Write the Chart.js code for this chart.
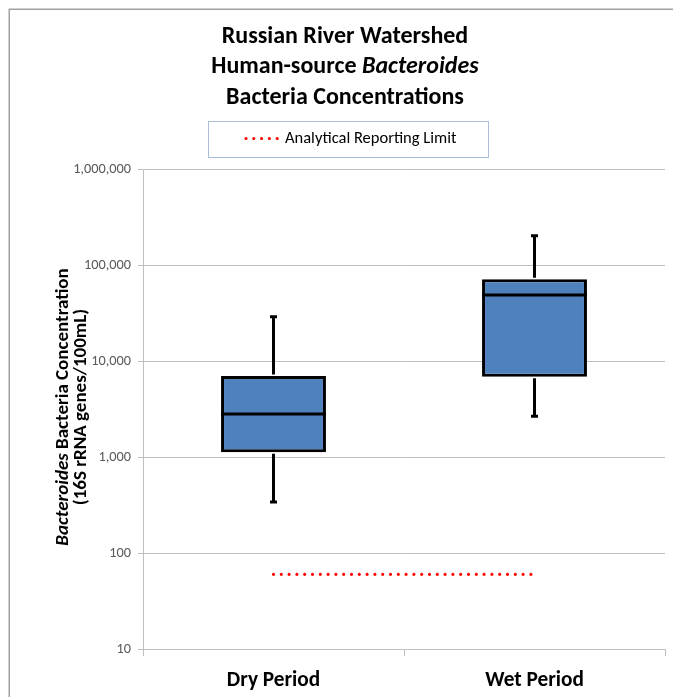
<!DOCTYPE html>
<html><head><meta charset="utf-8">
<script src="https://cdn.jsdelivr.net/npm/chart.js@4/dist/chart.umd.min.js"></script>
<style>html,body{margin:0;padding:0;background:#fff;overflow:hidden}#wrap{position:relative;width:673px;height:697px}</style>
</head><body><div id="wrap"><canvas id="c" width="673" height="697"></canvas></div>
<script>
// ---- data ----
const categories = ['Dry Period', 'Wet Period'];
const whiskerMin = [340, 2650];
const q1 = [1120, 6860];
const median = [2800, 48700];
const q3 = [6980, 71000];
const whiskerMax = [28900, 202000];
const reportingLimit = [60, 60];
const yTicks = [10, 100, 1000, 10000, 100000, 1000000];
const titleLines = [
  [{t: 'Russian River Watershed'}],
  [{t: 'Human-source '}, {t: 'Bacteroides', i: true}],
  [{t: 'Bacteria Concentrations'}]
];
const yTitleLines = [
  [{t: 'Bacteroides', i: true}, {t: ' Bacteria Concentration'}],
  [{t: '(16S rRNA genes/100mL)'}]
];
const legendLabel = 'Analytical Reporting Limit';

const FAMILY = 'Carlito, Lato, sans-serif';

function fontStr(size, bold, italic) {
  return (italic ? 'italic ' : '') + (bold ? 'bold ' : '') + size + 'px ' + FAMILY;
}
function drawRich(ctx, segs, cx, cy, size, bold, color) {
  let total = 0;
  const widths = segs.map(s => { ctx.font = fontStr(size, bold, s.i); const w = ctx.measureText(s.t).width; total += w; return w; });
  let x = cx - total / 2;
  ctx.fillStyle = color;
  ctx.textBaseline = 'middle';
  ctx.textAlign = 'left';
  segs.forEach((s, k) => { ctx.font = fontStr(size, bold, s.i); ctx.fillText(s.t, x, cy); x += widths[k]; });
}

const decorPlugin = {
  id: 'decor',
  beforeDraw(chart) {
    const ctx = chart.ctx;
    ctx.save();
    ctx.strokeStyle = '#a0a0a0';
    ctx.lineWidth = 1.5;
    ctx.beginPath();
    ctx.moveTo(9.25, 697);
    ctx.lineTo(9.25, 9.25);
    ctx.lineTo(673, 9.25);
    ctx.stroke();
    ctx.restore();
  },
  afterDatasetsDraw(chart) {
    const ctx = chart.ctx;
    const xs = chart.scales.x, ys = chart.scales.y;
    const meta = chart.getDatasetMeta(0);
    ctx.save();
    ctx.strokeStyle = '#000';
    ctx.lineWidth = 3;
    ctx.lineCap = 'butt';
    categories.forEach((c, i) => {
      const x = xs.getPixelForValue(i);
      const yMax = ys.getPixelForValue(whiskerMax[i]);
      const yMin = ys.getPixelForValue(whiskerMin[i]);
      const yQ1 = ys.getPixelForValue(q1[i]);
      const yQ3 = ys.getPixelForValue(q3[i]);
      const yMed = ys.getPixelForValue(median[i]);
      ctx.beginPath();
      ctx.moveTo(x, yQ3 - 1.5); ctx.lineTo(x, yMax);
      ctx.moveTo(x, yQ1 + 1.5); ctx.lineTo(x, yMin);
      ctx.moveTo(x - 3.5, yMax); ctx.lineTo(x + 3.5, yMax);
      ctx.moveTo(x - 3.5, yMin); ctx.lineTo(x + 3.5, yMin);
      ctx.stroke();
      const bar = meta.data[i];
      ctx.beginPath();
      ctx.moveTo(bar.x - bar.width / 2, yMed);
      ctx.lineTo(bar.x + bar.width / 2, yMed);
      ctx.stroke();
    });
    ctx.restore();
  },
  afterDraw(chart) {
    const ctx = chart.ctx;
    ctx.save();
    // title
    const titleY = [37, 67, 98];
    titleLines.forEach((segs, k) => drawRich(ctx, segs, 345, titleY[k], 24, true, '#000'));
    // legend box
    ctx.strokeStyle = '#a9bcd8';
    ctx.lineWidth = 1;
    ctx.strokeRect(208.5, 121.5, 280, 36);
    const ds = chart.data.datasets[1];
    ctx.strokeStyle = ds.borderColor;
    ctx.lineWidth = ds.borderWidth;
    ctx.lineCap = 'round';
    ctx.setLineDash(ds.borderDash);
    ctx.beginPath();
    ctx.moveTo(246, 138.5);
    ctx.lineTo(280, 138.5);
    ctx.stroke();
    ctx.setLineDash([]);
    ctx.font = fontStr(16.5, false, false);
    ctx.fillStyle = '#000';
    ctx.textBaseline = 'middle';
    ctx.textAlign = 'left';
    ctx.fillText(ds.label, 285, 138.5);
    // y title
    const yTitleX = [63, 81];
    yTitleLines.forEach((segs, k) => {
      ctx.save();
      ctx.translate(yTitleX[k], 407);
      ctx.rotate(-Math.PI / 2);
      drawRich(ctx, segs, 0, 0, 19, true, '#000');
      ctx.restore();
    });
    ctx.restore();
  }
};

new Chart(document.getElementById('c'), {
  data: {
    labels: categories,
    datasets: [
      {
        type: 'bar',
        label: 'Concentration',
        data: categories.map((c, i) => [q1[i], q3[i]]),
        backgroundColor: '#4f81bd',
        borderColor: '#000',
        borderWidth: 3,
        borderSkipped: false,
        barPercentage: 0.402,
        categoryPercentage: 1
      },
      {
        type: 'line',
        label: legendLabel,
        data: reportingLimit,
        borderColor: '#ff0000',
        borderWidth: 3.2,
        borderDash: [0, 7.8],
        borderCapStyle: 'round',
        pointRadius: 0,
        fill: false
      }
    ]
  },
  options: {
    responsive: false,
    animation: false,
    devicePixelRatio: 1,
    layout: {padding: {top: 169, right: 8, left: 0, bottom: 0}},
    plugins: {legend: {display: false}, title: {display: false}, tooltip: {enabled: false}},
    scales: {
      x: {
        type: 'category',
        offset: true,
        grid: {offset: true, drawOnChartArea: false, drawTicks: true, tickLength: 7, color: '#c0c0c0'},
        border: {color: '#c0c0c0'},
        ticks: {color: '#000', font: {family: FAMILY, size: 21.3, weight: 'bold'}, padding: 12},
        afterFit: s => { s.height = 48; }
      },
      y: {
        type: 'logarithmic',
        min: 10,
        max: 1000000,
        afterBuildTicks: s => { s.ticks = yTicks.map(v => ({value: v, major: true})); },
        ticks: {
          color: '#595959',
          font: {family: FAMILY, size: 14.3},
          padding: 7,
          callback: v => Number(v).toLocaleString('en-US')
        },
        grid: {color: '#c0c0c0', tickLength: 5},
        border: {color: '#c0c0c0'},
        afterFit: s => { s.width = 143; }
      }
    }
  },
  plugins: [decorPlugin]
});
</script>
</body></html>
